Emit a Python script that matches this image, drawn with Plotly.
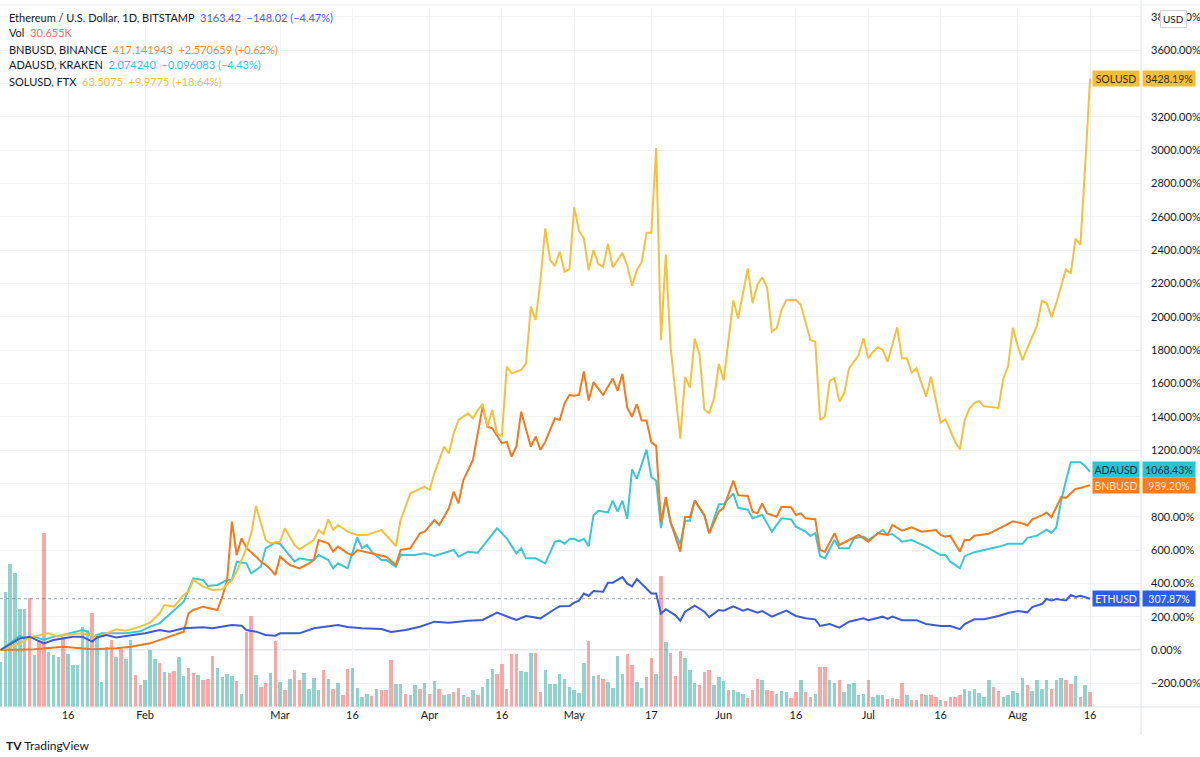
import plotly.graph_objects as go
import pandas as pd

# ---------------- data (percent change vs. first bar, 2021) ----------------
BASE_DATE = "2021-01-01"   # day offsets below are counted from this date

ETH_DAYS = [1, 5, 7, 10, 12, 16, 18, 20, 21, 23, 25, 31, 34, 36, 39, 43, 45, 49, 51, 52, 54, 56, 58, 59, 61, 63,
            66, 71, 73, 76, 80, 82, 85, 88, 91, 94, 98, 101, 104, 108, 110, 113, 116, 117, 119, 120, 121, 122, 123,
            124, 126, 127, 128, 130, 131, 132, 133, 135, 136, 137, 138, 139, 141, 142, 143, 145, 147, 148, 150, 151,
            153, 155, 156, 158, 159, 161, 164, 166, 168, 170, 171, 173, 175, 177, 180, 181, 184, 185, 186, 188, 191,
            193, 196, 198, 200, 201, 203, 205, 208, 210, 212, 214, 215, 217, 218, 219, 220, 222, 223, 224, 225, 227]
ETH_PCT = [0, 70, 80, 40, 60, 80, 80, 50, 75, 90, 75, 100, 120, 110, 130, 136, 130, 150, 145, 120, 110, 90, 86, 100,
           100, 100, 130, 150, 138, 130, 126, 108, 120, 140, 170, 164, 176, 180, 224, 180, 204, 190, 246, 262, 264,
           284, 296, 339, 324, 354, 350, 404, 404, 437, 398, 382, 426, 367, 339, 339, 218, 245, 208, 175, 230, 266,
           230, 197, 240, 236, 262, 236, 246, 224, 234, 200, 236, 204, 190, 184, 144, 156, 134, 170, 190, 179, 200,
           186, 200, 179, 179, 156, 144, 144, 125, 155, 184, 184, 204, 222, 234, 226, 258, 276, 306, 297, 306, 297,
           330, 318, 325, 307.87]

BNB_DAYS = [1, 8, 14, 20, 25, 28, 32, 35, 37, 39, 40, 41, 43, 46, 47, 48, 49, 50, 51, 52, 54, 55, 56, 57, 58, 59, 61,
            63, 65, 66, 67, 69, 70, 71, 73, 74, 75, 77, 80, 81, 83, 84, 86, 88, 89, 91, 92, 94, 95, 96, 97, 99, 101,
            102, 103, 105, 106, 107, 108, 109, 111, 112, 113, 114, 116, 117, 118, 119, 120, 121, 122, 123, 124, 126,
            128, 129, 130, 131, 132, 133, 134, 135, 136, 137, 138, 139, 140, 142, 143, 144, 145, 147, 148, 150, 151,
            153, 154, 156, 157, 158, 159, 160, 162, 163, 165, 166, 167, 168, 170, 171, 172, 174, 175, 177, 179, 181,
            183, 185, 186, 188, 190, 192, 195, 196, 197, 198, 200, 201, 202, 203, 206, 208, 211, 213, 214, 215, 217,
            218, 219, 221, 222, 224, 225, 227]
BNB_PCT = [0, 5, 20, 5, 10, 20, 40, 70, 90, 110, 220, 240, 260, 240, 320, 420, 770, 570, 670, 612, 560, 530, 510, 485,
           450, 560, 510, 490, 520, 540, 660, 640, 590, 620, 580, 570, 600, 588, 570, 560, 510, 600, 610, 700, 710,
           780, 750, 850, 950, 880, 1020, 1140, 1460, 1340, 1330, 1240, 1250, 1160, 1220, 1430, 1220, 1280, 1200,
           1250, 1390, 1380, 1480, 1530, 1525, 1530, 1672, 1497, 1607, 1530, 1629, 1556, 1657, 1454, 1399, 1476,
           1377, 1377, 1246, 1224, 765, 918, 765, 590, 798, 798, 896, 809, 700, 830, 853, 1016, 929, 924, 830, 820,
           880, 820, 800, 860, 857, 810, 820, 790, 785, 600, 590, 700, 630, 660, 690, 650, 700, 690, 750, 716, 736,
           710, 720, 690, 680, 686, 590, 661, 660, 686, 698, 727, 772, 759, 747, 784, 808, 825, 796, 918, 913, 966,
           972, 989.20]

ADA_DAYS = [1, 3, 5, 6, 8, 10, 12, 14, 18, 19, 20, 22, 24, 27, 30, 32, 34, 36, 39, 41, 43, 44, 46, 48, 49, 50, 52, 53,
            55, 56, 58, 59, 60, 61, 62, 63, 65, 66, 67, 69, 70, 71, 73, 75, 76, 77, 78, 80, 81, 83, 84, 87, 89, 91,
            93, 95, 96, 98, 100, 101, 104, 106, 108, 109, 110, 112, 114, 116, 117, 118, 119, 120, 121, 122, 123, 124,
            125, 127, 128, 129, 130, 131, 132, 133, 135, 136, 137, 138, 139, 140, 142, 143, 144, 145, 147, 148, 150,
            151, 153, 154, 156, 157, 158, 159, 161, 163, 165, 166, 168, 169, 170, 171, 172, 174, 175, 177, 178, 180,
            181, 183, 184, 185, 186, 188, 190, 193, 194, 196, 197, 198, 200, 201, 203, 205, 208, 210, 213, 214, 216,
            218, 219, 220, 221, 222, 223, 225, 226, 227]
ADA_PCT = [0, 40, 84, 70, 80, 60, 80, 90, 120, 110, 80, 100, 100, 100, 112, 140, 160, 210, 290, 430, 420, 384, 390,
           420, 420, 530, 520, 460, 500, 610, 644, 636, 600, 570, 530, 550, 540, 540, 570, 540, 490, 520, 490, 676,
           610, 630, 590, 540, 540, 500, 570, 570, 580, 564, 580, 600, 560, 590, 584, 620, 730, 670, 580, 610, 550,
           550, 520, 650, 656, 638, 664, 667, 652, 667, 623, 809, 835, 826, 896, 830, 896, 787, 1084, 1027, 1202,
           1038, 1016, 732, 907, 765, 634, 776, 776, 896, 809, 700, 874, 874, 940, 853, 842, 791, 800, 810, 710, 790,
           784, 740, 710, 684, 702, 564, 550, 660, 610, 610, 670, 680, 660, 700, 720, 690, 696, 650, 660, 620, 604,
           570, 570, 530, 490, 563, 587, 600, 619, 637, 637, 673, 686, 722, 703, 735, 894, 1016, 1126, 1126, 1102,
           1068.43]

SOL_DAYS = [1, 5, 7, 9, 11, 13, 14, 18, 21, 23, 25, 27, 30, 32, 34, 35, 37, 39, 40, 41, 43, 45, 47, 49, 50, 52, 53,
            54, 56, 57, 59, 60, 61, 62, 63, 65, 66, 67, 68, 69, 70, 71, 73, 75, 77, 78, 80, 83, 84, 86, 88, 89, 90,
            91, 93, 94, 95, 96, 98, 99, 100, 101, 102, 103, 104, 105, 106, 107, 109, 110, 111, 112, 113, 114, 115,
            116, 117, 118, 119, 120, 121, 122, 123, 124, 125, 126, 127, 128, 130, 131, 132, 133, 134, 135, 136, 137,
            138, 139, 140, 142, 143, 144, 145, 146, 147, 148, 149, 150, 151, 153, 154, 156, 157, 158, 159, 160, 161,
            162, 163, 164, 166, 167, 169, 170, 171, 172, 173, 174, 175, 176, 177, 179, 180, 181, 182, 183, 184, 185,
            187, 188, 189, 190, 191, 193, 194, 196, 197, 199, 200, 201, 202, 203, 204, 205, 208, 209, 210, 211, 212,
            213, 214, 216, 217, 218, 219, 220, 222, 223, 224, 225, 226, 227]
SOL_PCT = [0, 40, 76, 90, 100, 80, 90, 100, 80, 100, 124, 116, 140, 164, 220, 270, 260, 330, 350, 420, 380, 360, 364,
           420, 470, 610, 700, 864, 660, 640, 650, 730, 680, 630, 604, 640, 660, 720, 696, 784, 720, 750, 710, 690,
           690, 700, 720, 624, 780, 940, 970, 980, 960, 1060, 1220, 1180, 1300, 1380, 1420, 1390, 1440, 1476, 1340,
           1440, 1300, 1284, 1700, 1660, 1680, 1720, 2060, 1980, 2220, 2530, 2340, 2304, 2390, 2270, 2285, 2656,
           2514, 2470, 2278, 2400, 2316, 2299, 2437, 2295, 2383, 2306, 2186, 2278, 2328, 2503, 2503, 3012, 1858,
           2372, 1814, 1268, 1639, 1574, 1869, 1771, 1443, 1421, 1508, 1716, 1618, 2098, 1989, 2290, 2080, 2190,
           2236, 2176, 1910, 1930, 2040, 2100, 2100, 2070, 1860, 1850, 1380, 1400, 1616, 1630, 1490, 1540, 1690,
           1770, 1870, 1750, 1790, 1816, 1800, 1730, 1936, 1750, 1750, 1664, 1690, 1520, 1640, 1364, 1384, 1250,
           1204, 1380, 1450, 1482, 1494, 1462, 1452, 1628, 1702, 1934, 1824, 1739, 1812, 1947, 2094, 2082, 1996,
           2082, 2284, 2259, 2468, 2431, 2908, 3428.19]

# ETHUSD daily volume (thousands), one bar per day from VOL_START
VOL_START = "2021-01-02"
VOL_K = [90, 230, 286, 268, 196, 196, 218, 104, 134, 348, 110, 104, 100, 140, 106, 84, 84, 160, 154, 188,
         140, 50, 120, 134, 100, 116, 96, 134, 64, 44, 54, 114, 96, 88, 70, 68, 72, 100, 62, 78,
         68, 64, 54, 56, 102, 78, 60, 66, 62, 52, 26, 150, 182, 64, 40, 48, 68, 132, 50, 34,
         56, 74, 54,
         68, 36, 58, 34, 74, 56, 36, 48, 24, 76, 78, 38, 20, 26, 22, 36, 34, 34, 94, 46,
         46, 26, 24, 44, 36, 48, 26, 52, 36, 24, 26, 30, 38, 24, 20, 34, 24, 40, 56, 76,
         66, 86, 36, 106, 106, 72, 70, 108, 108, 30, 74, 46, 46,
         66, 56, 40, 34, 28, 88, 132, 62, 64, 56, 50, 38, 102, 66, 106, 84, 50, 38, 60, 98,
         66, 262, 130, 108, 62, 112, 98, 74, 48, 44, 70, 74, 44, 60, 52, 34, 34, 30, 26, 18,
         34, 56,
         54, 34, 32, 26, 32, 30, 18, 30, 54, 30, 20, 26, 80, 80, 54, 48, 54, 30, 46, 48,
         24, 26, 54, 20, 24, 24, 16, 18, 16, 48, 24, 14, 14, 26, 24, 24, 20, 14, 12,
         20, 20, 24, 36, 32, 36, 28, 20, 54, 40, 32, 20, 24, 32, 28, 58, 44, 32, 54, 36,
         54, 36, 54, 58, 54, 46, 62, 20, 44, 30.655]
# bar direction per day: g = close above open, r = close below open
VOL_DIR = "".join([
    "ggggggrgrr", "gggrgggggr", "gggrgrggrr", "gggrgrrggr", "rgrrrggggr", "grrgrrgrgr", "grr",
    "ggggrgrgrr", "ggggrgrrrg", "grggrgrgrg", "grrgrgrggg", "rrrrrgggrr", "ggg",
    "ggggggrgrr", "ggggrrggrr", "gr", "grrrgggrrr", "gggrgggrrr",
    "grrgggrrgr", "rgrrggrggg", "ggrgggrgrr", "grgrgrrgr",
    "rrrggggggr", "rgggggrggg", "grggrrgrgr",
])

# right-axis labels (percent) and time-axis ticks
Y_TICKS = [-200, 0, 200, 400, 600, 800, 1000, 1200, 1400, 1600, 1800, 2000, 2200, 2400, 2600, 2800, 3000,
           3200, 3400, 3600, 3800]
Y_HIDDEN = [1000, 3400]          # covered by the price labels
X_TICK_DATES = ["2021-01-16", "2021-02-01", "2021-03-01", "2021-03-16", "2021-04-01", "2021-04-16",
                "2021-05-01", "2021-05-17", "2021-06-01", "2021-06-16", "2021-07-01", "2021-07-16",
                "2021-08-01", "2021-08-16"]
X_TICK_TEXT = ["16", "Feb", "Mar", "16", "Apr", "16", "May", "17", "Jun", "16", "Jul", "16", "Aug", "16"]

# ---------------- helpers ----------------
base = pd.Timestamp(BASE_DATE)


def to_dates(days):
    return [base + pd.Timedelta(days=d) for d in days]


W, H = 1200, 757
ML, MR, MT, MB = 0, 59, 8, 50
PW, PH = W - ML - MR, H - MT - MB


def px(x):
    return (x - ML) / PW


def py(y):
    return (H - MB - y) / PH


FONT = "Lato, 'Open Sans', Roboto, sans-serif"
TXT = "#131722"
C_ETH, C_BNB, C_ADA, C_SOL = "#3d5ad8", "#f07a1c", "#3cc6cf", "#f2c23e"

vol_dates = pd.date_range(VOL_START, periods=len(VOL_K), freq="D")
vol_colors = ["rgba(38,166,154,0.5)" if c == "g" else "rgba(239,83,80,0.5)" for c in VOL_DIR]

fig = go.Figure()
fig.add_trace(go.Bar(x=vol_dates, y=VOL_K, yaxis="y", marker=dict(color=vol_colors, line=dict(width=0)),
                     width=0.72 * 86400000, hoverinfo="skip"))

series = [
    ("ADAUSD", ADA_DAYS, ADA_PCT, C_ADA),
    ("BNBUSD", BNB_DAYS, BNB_PCT, C_BNB),
    ("SOLUSD", SOL_DAYS, SOL_PCT, C_SOL),
    ("ETHUSD", ETH_DAYS, ETH_PCT, C_ETH),
]
for name, days, vals, col in series:
    fig.add_trace(go.Scatter(x=to_dates(days), y=vals, yaxis="y2", mode="lines", name=name,
                             line=dict(color=col, width=2), hoverinfo="skip"))

y_text = []
for v in Y_TICKS:
    if v in Y_HIDDEN:
        y_text.append("")
    else:
        y_text.append(("−" if v < 0 else "") + f"{abs(v):.2f}%")

fig.update_layout(
    width=W, height=H, autosize=False,
    margin=dict(l=ML, r=MR, t=MT, b=MB),
    paper_bgcolor="white", plot_bgcolor="white", showlegend=False, bargap=0,
    font=dict(family=FONT, size=11, color=TXT),
    xaxis=dict(type="date", range=["2021-01-01 21:29", "2021-08-26 13:40"],
               tickvals=X_TICK_DATES, ticktext=X_TICK_TEXT, tickangle=0,
               showgrid=True, gridcolor="#f0f2f6", gridwidth=1, zeroline=False, showline=False,
               ticks="", tickfont=dict(size=11, color=TXT, family=FONT), fixedrange=True),
    yaxis=dict(range=[0, 1398], visible=False, showgrid=False, fixedrange=True),
    yaxis2=dict(overlaying="y", side="right", range=[-342, 3852], tickvals=Y_TICKS, ticktext=y_text,
                showgrid=True, gridcolor="#f0f2f6", gridwidth=1, zeroline=False, showline=False,
                ticks="", ticklabelstandoff=9, tickfont=dict(size=11, color=TXT, family=FONT),
                fixedrange=True),
)

shapes = [
    # 0% base line
    dict(type="line", xref="paper", yref="y2", x0=0, x1=1, y0=0, y1=0,
         line=dict(color="#c8cad0", width=1), layer="below"),
    # ETH last-price dotted line
    dict(type="line", xref="paper", yref="y2", x0=0, x1=1, y0=ETH_PCT[-1], y1=ETH_PCT[-1],
         line=dict(color="#9aa0ad", width=1, dash="dot"), layer="below"),
    # time-axis border, price-axis separator, top border
    dict(type="line", xref="paper", yref="paper", x0=0, x1=px(W), y0=0, y1=0,
         line=dict(color="#e0e3eb", width=1)),
    dict(type="line", xref="paper", yref="paper", x0=1, x1=1, y0=py(735), y1=py(0),
         line=dict(color="#e0e3eb", width=1)),
    dict(type="line", xref="paper", yref="paper", x0=0, x1=px(W), y0=py(5), y1=py(5),
         line=dict(color="#eceef2", width=1)),
]
fig.update_layout(shapes=shapes)

ann = []
# header / legend lines
LEG_SIZE = 11
legend_lines = [
    (17, "Ethereum / U.S. Dollar, 1D, BITSTAMP&nbsp;&nbsp;"
         "<span style='color:#3f63dd'>3163.42&nbsp;&nbsp;−148.02 (−4.47%)</span>"),
    (33, "Vol&nbsp;&nbsp;<span style='color:#ef6f6c'>30.655K</span>"),
    (49, "BNBUSD, BINANCE&nbsp;&nbsp;<span style='color:#f08a3a'>417.141943&nbsp;&nbsp;+2.570659 (+0.62%)</span>"),
    (65, "ADAUSD, KRAKEN&nbsp;&nbsp;<span style='color:#3cc0d0'>2.074240&nbsp;&nbsp;−0.096083 (−4.43%)</span>"),
    (81, "SOLUSD, FTX&nbsp;&nbsp;<span style='color:#f0c04a'>63.5075&nbsp;&nbsp;+9.9775 (+18.64%)</span>"),
]
for yc, t in legend_lines:
    ann.append(dict(xref="paper", yref="paper", x=px(7), y=py(yc), xanchor="left", yanchor="middle",
                    text=t, showarrow=False, font=dict(size=LEG_SIZE, color=TXT, family=FONT)))

# price labels on the right
labels = [
    ("SOLUSD", SOL_PCT[-1], "#f5bd36", "#3a2d05", 0),
    ("ADAUSD", ADA_PCT[-1], "#2cc3d0", "#0d3443", 2),
    ("BNBUSD", BNB_PCT[-1], "#f57c1f", "#fde3cf", 0),
    ("ETHUSD", ETH_PCT[-1], "#2f5cf0", "#ffffff", 0),
]
for name, val, bg, fg, ys in labels:
    ann.append(dict(xref="paper", yref="y2", x=px(1140), y=val, yshift=ys, xanchor="right", yanchor="middle",
                    text=name, showarrow=False, bgcolor=bg, borderpad=0, width=46, height=15,
                    font=dict(size=10.5, color=fg, family=FONT)))
    ann.append(dict(xref="paper", yref="y2", x=px(1142), y=val, yshift=ys, xanchor="left", yanchor="middle",
                    text=f"{val:.2f}%", showarrow=False, bgcolor=bg, borderpad=0, width=52, height=15,
                    font=dict(size=10.5, color=fg, family=FONT)))

# currency box
ann.append(dict(xref="paper", yref="paper", x=px(1173), y=py(19), xanchor="center", yanchor="middle",
                text="USD", showarrow=False, bgcolor="white", bordercolor="#d1d4dc", borderwidth=1,
                borderpad=2, font=dict(size=10, color=TXT, family=FONT)))
# TradingView mark
ann.append(dict(xref="paper", yref="paper", x=px(4), y=py(745), xanchor="left", yanchor="middle",
                text="<b>TV</b> TradingView", showarrow=False,
                font=dict(size=12, color=TXT, family=FONT)))
fig.update_layout(annotations=ann)

fig.write_html("out.html", config={"displayModeBar": False},
               post_script="document.body.style.margin='0';document.body.style.overflow='hidden';")
